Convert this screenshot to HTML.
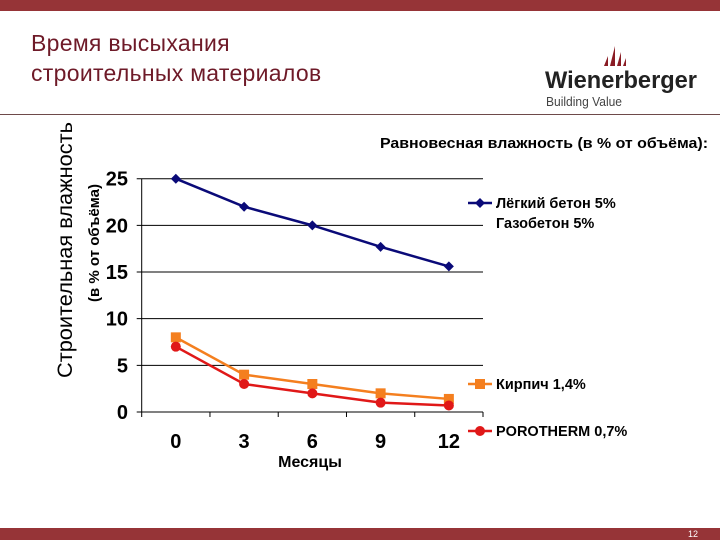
<!DOCTYPE html>
<html><head><meta charset="utf-8"><style>
body{margin:0;width:720px;height:540px;overflow:hidden;background:#fff;font-family:"Liberation Sans",sans-serif;position:relative}
.abs{position:absolute}
</style></head><body>
<div class="abs" style="left:0;top:0;width:720px;height:11px;background:#963437"></div>
<div class="abs" style="left:31px;top:28px;font-size:23px;line-height:30px;color:#6e1a28;letter-spacing:0.3px">Время высыхания<br>строительных материалов</div>
<div class="abs" style="left:540px;top:36px;width:160px;height:75px">
<svg width="160" height="75">
<g fill="#8a1c24"><polygon points="64,30 68,20 68,30"/><polygon points="70,30 75,10 75,30"/><polygon points="77,30 81,16 81,30"/><polygon points="83,30 86,22 86,30"/></g>
<text x="5" y="52" font-family="Liberation Sans" font-weight="bold" font-size="24" fill="#222" textLength="152" lengthAdjust="spacingAndGlyphs">Wienerberger</text>
<text x="6" y="70" font-family="Liberation Sans" font-size="13" fill="#444" textLength="76" lengthAdjust="spacingAndGlyphs">Building Value</text>
</svg></div>
<div class="abs" style="left:0;top:114px;width:720px;height:1px;background:#6e4a4a"></div>
<div class="abs" style="left:0;top:528px;width:720px;height:12px;background:#963437"></div>
<div class="abs" style="left:688px;top:529px;font-size:9px;color:#fff">12</div>
<svg class="abs" style="left:0;top:0" width="720" height="540" id="chart"></svg>
<script>
const categories=["0","3","6","9","12"];
const seriesNames=["Лёгкий бетон 5%","Кирпич 1,4%","POROTHERM 0,7%"];
const lightConcrete=[25,22,20,17.7,15.6];
const brick=[8,4,3,2,1.4];
const porotherm=[7,3,2,1,0.7];
const yTicks=[0,5,10,15,20,25];
const svg=document.getElementById('chart');
const NS='http://www.w3.org/2000/svg';
const x0=141.7,x1=483,y0=412,y1=178.7,yMax=25;
const band=(x1-x0)/categories.length;
const xs=i=>x0+band*(i+0.5);
const ys=v=>y0-(v/yMax)*(y0-y1);
function mk(t,a,txt){const e=document.createElementNS(NS,t);for(const k in a)e.setAttribute(k,a[k]);if(txt!==undefined)e.textContent=txt;svg.appendChild(e);return e;}
yTicks.forEach(v=>{
 const l=mk('line',{x1:x0-5,x2:x1,y1:ys(v),y2:ys(v),stroke:'#000','stroke-width':1});
 
 
 const t=mk('text',{x:128,y:ys(v)+7,'text-anchor':'end','font-size':20,'font-family':'Liberation Sans','font-weight':'bold'},v);
 
 
});
const ax=mk('line',{x1:x0,x2:x0,y1:y1,y2:y0,stroke:'#000'});


for(let i=0;i<=categories.length;i++){
 const tk=mk('line',{x1:x0+band*i,x2:x0+band*i,y1:y0,y2:y0+5,stroke:'#000'});
 
 
}
categories.forEach((c,i)=>{
 const t=mk('text',{x:xs(i),y:448,'text-anchor':'middle','font-size':20,'font-family':'Liberation Sans','font-weight':'bold'},c);
 
 
});
function series(vals,color,shape,name){
 const pl=mk('polyline',{points:vals.map((v,i)=>xs(i)+','+ys(v)).join(' '),fill:'none',stroke:color,'stroke-width':2.5});
 
 
 vals.forEach((v,i)=>marker(xs(i),ys(v),color,shape,name+'-point'));
}
function marker(x,y,color,shape,name){
 let m;
 if(shape==='d')m=mk('polygon',{points:`${x},${y-5} ${x+5},${y} ${x},${y+5} ${x-5},${y}`,fill:color});
 else if(shape==='s')m=mk('rect',{x:x-5,y:y-5,width:10,height:10,fill:color});
 else m=mk('circle',{cx:x,cy:y,r:5,fill:color});
 
 
}
series(lightConcrete,'#0a0a78','d','light-concrete');
series(brick,'#f47f1f','s','brick');
series(porotherm,'#e01818','c','porotherm');
function legend(y,color,shape,lines,name){
 const l=mk('line',{x1:468,x2:492,y1:y,y2:y,stroke:color,'stroke-width':2.5});
 
 
 marker(480,y,color,shape,name+'-legend-marker');
 lines.forEach((s,k)=>{
  const t=mk('text',{x:496,y:y+5+k*20,'font-size':14.5,'font-family':'Liberation Sans','font-weight':'bold'},s);
  
  
 });
}
legend(203,'#0a0a78','d',[seriesNames[0],'Газобетон 5%'],'light-concrete');
legend(384,'#f47f1f','s',[seriesNames[1]],'brick');
legend(431,'#e01818','c',[seriesNames[2]],'porotherm');
const lt=mk('text',{x:380,y:148,'font-size':14.5,'font-family':'Liberation Sans','font-weight':'bold',textLength:328,lengthAdjust:'spacingAndGlyphs'},'Равновесная влажность (в % от объёма):');


const xt=mk('text',{x:310,y:467,'text-anchor':'middle','font-size':16,'font-family':'Liberation Sans','font-weight':'bold'},'Месяцы');


const yt=mk('text',{x:0,y:0,transform:'translate(72,250) rotate(-90)','text-anchor':'middle','font-size':21,'font-family':'Liberation Sans',textLength:256,lengthAdjust:'spacingAndGlyphs'},'Строительная влажность');


const yt2=mk('text',{x:0,y:0,transform:'translate(99,243) rotate(-90)','text-anchor':'middle','font-size':15,'font-family':'Liberation Sans','font-weight':'bold'},'(в % от объёма)');


</script>
</body></html>
